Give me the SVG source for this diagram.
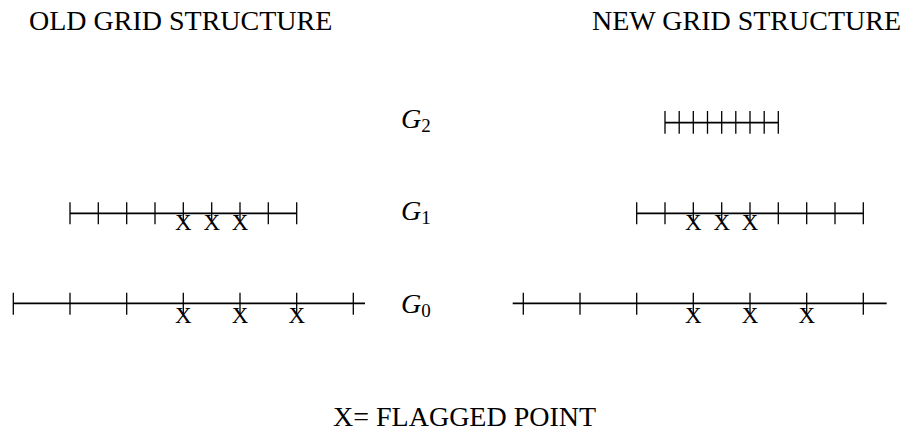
<svg xmlns="http://www.w3.org/2000/svg" width="912" height="432" viewBox="0 0 912 432">
<style>
.t{font-family:"Liberation Serif","Times New Roman",serif;fill:#000}
.title{font-size:28px}
.x{font-size:23px;text-anchor:middle}
.g{font-family:"Liberation Serif","Times New Roman",serif;font-style:italic;font-size:28px}
.sub{font-family:"Liberation Serif","Times New Roman",serif;font-size:19px;font-style:normal}
.ln{stroke:#000;stroke-width:1.8;fill:none}
.tk{stroke:#000;stroke-width:1.3;fill:none}
</style>
<rect width="912" height="432" fill="#fff"/>
<g id="titles">
<text class="t title" x="29" y="30">OLD GRID STRUCTURE</text>
<text class="t title" x="592" y="30">NEW GRID STRUCTURE</text>
</g>
<g id="labels">
<text class="g" x="401" y="128">G<tspan class="sub" dx="0" dy="4">2</tspan></text>
<text class="g" x="401" y="220">G<tspan class="sub" dx="0" dy="4">1</tspan></text>
<text class="g" x="401" y="313">G<tspan class="sub" dx="0" dy="4">0</tspan></text>
</g>
<g id="old-G1">
<line class="ln" x1="70" y1="213.3" x2="296.7" y2="213.3"/>
<path class="tk" d="M70 202.3V224.3M98.3 202.3V224.3M126.7 202.3V224.3M155 202.3V224.3M183.3 202.3V224.3M211.7 202.3V224.3M240 202.3V224.3M268.3 202.3V224.3M296.7 202.3V224.3"/>
<text class="t x" x="183.3" y="229.5">X</text>
<text class="t x" x="211.7" y="229.5">X</text>
<text class="t x" x="240" y="229.5">X</text>
</g>
<g id="old-G0">
<line class="ln" x1="13.3" y1="303.3" x2="365" y2="303.3"/>
<path class="tk" d="M13.3 292.7V314.7M70 292.7V314.7M126.7 292.7V314.7M183.3 292.7V314.7M240 292.7V314.7M296.7 292.7V314.7M353.3 292.7V314.7"/>
<text class="t x" x="183.3" y="322.7">X</text>
<text class="t x" x="240" y="322.7">X</text>
<text class="t x" x="296.7" y="322.7">X</text>
</g>
<g id="new-G2">
<line class="ln" x1="665" y1="122.7" x2="778.3" y2="122.7"/>
<path class="tk" d="M665 111V133.7M679.2 111V133.7M693.3 111V133.7M707.5 111V133.7M721.7 111V133.7M735.8 111V133.7M750 111V133.7M764.2 111V133.7M778.3 111V133.7"/>
</g>
<g id="new-G1">
<line class="ln" x1="636.7" y1="213.3" x2="863.3" y2="213.3"/>
<path class="tk" d="M636.7 202.3V224.3M665 202.3V224.3M693.3 202.3V224.3M721.7 202.3V224.3M750 202.3V224.3M778.3 202.3V224.3M806.7 202.3V224.3M835 202.3V224.3M863.3 202.3V224.3"/>
<text class="t x" x="693.3" y="229.5">X</text>
<text class="t x" x="721.7" y="229.5">X</text>
<text class="t x" x="750" y="229.5">X</text>
</g>
<g id="new-G0">
<line class="ln" x1="512.7" y1="303.3" x2="886.7" y2="303.3"/>
<path class="tk" d="M523.3 292.7V314.7M580 292.7V314.7M636.7 292.7V314.7M693.3 292.7V314.7M750 292.7V314.7M806.7 292.7V314.7M863.3 292.7V314.7"/>
<text class="t x" x="693.3" y="322.7">X</text>
<text class="t x" x="750" y="322.7">X</text>
<text class="t x" x="806.7" y="322.7">X</text>
</g>
<g id="legend">
<text class="t title" x="333" y="426">X= FLAGGED POINT</text>
</g>
</svg>
